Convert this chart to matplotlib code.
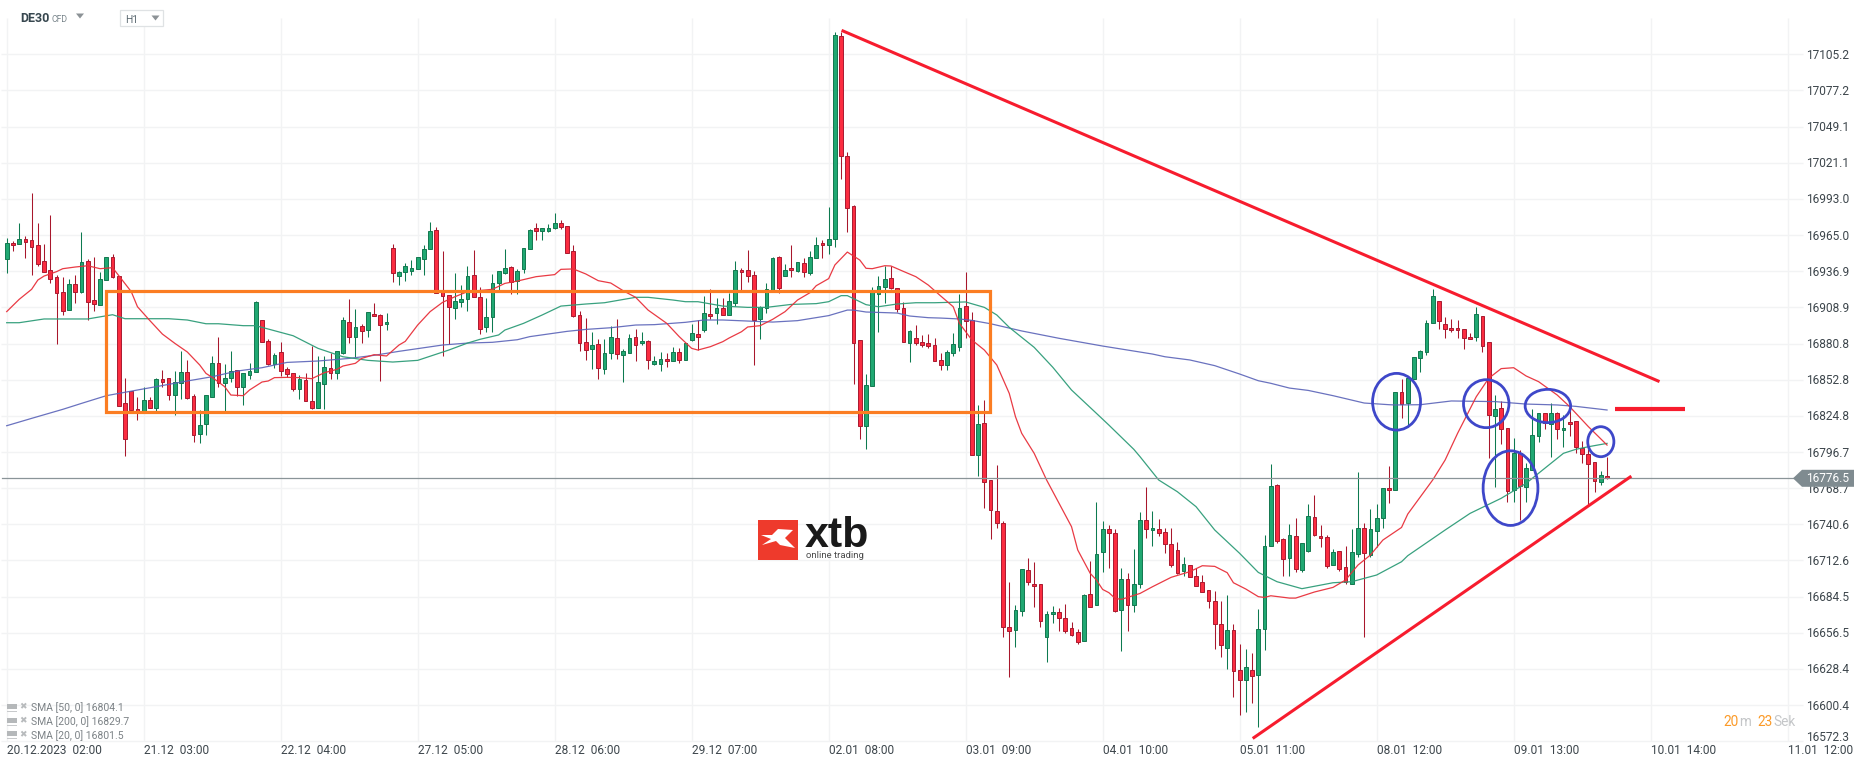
import matplotlib
matplotlib.use('Agg')
import matplotlib.pyplot as plt
from matplotlib.patches import Ellipse, Polygon, Rectangle

W, H = 1866, 767
plt.rcParams['font.family'] = ['Roboto', 'DejaVu Sans']

# hourly candles
opens = [
    16946.7, 16958.6, 16957.8, 16961.7, 16960.9, 16957.0, 16944.6, 16937.6, 16932.2, 16920.6,
    16906.6, 16926.8, 16921.1, 16944.6, 16914.3, 16911.0, 16929.9, 16947.7, 16933.0, 16834.4,
    16843.7, 16829.8, 16828.7, 16836.8, 16831.1, 16853.1, 16853.8, 16840.6, 16850.0, 16858.5,
    16839.9, 16810.4, 16818.2, 16839.1, 16865.5, 16850.0, 16853.8, 16860.0, 16846.9, 16856.7,
    16858.5, 16898.8, 16882.5, 16864.7, 16874.0, 16860.8, 16857.7, 16845.3, 16852.3, 16836.0,
    16831.1, 16849.2, 16861.6, 16857.7, 16873.2, 16897.3, 16885.6, 16894.2, 16891.1, 16903.5,
    16902.7, 16895.7, 16954.7, 16933.5, 16936.1, 16936.8, 16938.4, 16946.2, 16953.9, 16968.7,
    16921.1, 16918.2, 16908.1, 16912.8, 16915.1, 16933.7, 16916.7, 16893.4, 16901.2, 16927.5,
    16935.3, 16939.9, 16929.1, 16938.4, 16953.9, 16970.2, 16967.9, 16967.9, 16970.2, 16974.1,
    16971.8, 16952.4, 16902.7, 16881.8, 16876.3, 16880.2, 16860.8, 16873.2, 16884.9, 16871.7,
    16873.2, 16885.6, 16881.0, 16882.5, 16864.7, 16864.7, 16868.6, 16867.0, 16874.0, 16867.8,
    16883.3, 16888.0, 16891.1, 16903.5, 16904.3, 16908.1, 16902.7, 16912.0, 16937.6, 16937.6,
    16933.7, 16899.6, 16908.1, 16922.4, 16947.7, 16933.0, 16939.2, 16936.8, 16943.0, 16935.3,
    16946.9, 16958.6, 16957.0, 16961.7, 17119.2, 17026.1, 16987.3, 16883.3, 16817.1, 16847.6,
    16919.0, 16924.4, 16931.4, 16923.7, 16908.1, 16881.0, 16884.9, 16881.8, 16881.0, 16879.4,
    16868.3, 16864.4, 16873.2, 16877.9, 16909.7, 16898.8, 16794.6, 16818.9, 16774.7, 16750.7,
    16741.3, 16660.7, 16658.3, 16673.1, 16704.9, 16694.0, 16694.0, 16652.9, 16670.8, 16672.3,
    16667.6, 16659.9, 16656.8, 16649.8, 16686.3, 16677.7, 16718.9, 16736.7, 16733.6, 16673.9,
    16697.9, 16677.7, 16694.0, 16743.7, 16735.9, 16736.7, 16734.4, 16725.1, 16720.4, 16704.1,
    16708.8, 16700.2, 16695.6, 16689.4, 16680.8, 16663.0, 16644.4, 16658.3, 16627.3, 16619.5,
    16627.3, 16623.4, 16659.1, 16723.5, 16770.8, 16728.9, 16714.2, 16731.3, 16704.9, 16719.6,
    16746.0, 16731.3, 16730.5, 16708.8, 16719.6, 16707.2, 16694.0, 16717.3, 16737.5, 16716.5,
    16735.1, 16745.2, 16768.5, 16767.2, 16843.0, 16834.5, 16853.1, 16869.4, 16874.0, 16896.5,
    16913.6, 16895.7, 16892.6, 16892.6, 16891.9, 16885.7, 16885.7, 16902.0, 16881.8, 16824.4,
    16830.6, 16815.1, 16767.0, 16795.7, 16769.3, 16782.5, 16808.9, 16826.7, 16818.2, 16826.7,
    16813.5, 16819.7, 16820.5, 16799.5, 16794.9, 16788.7, 16773.2, 16777.8,
]
highs = [
    16962.4, 16960.4, 16974.1, 16964.3, 16997.4, 16974.1, 16957.8, 16980.5, 16934.0, 16932.2,
    16930.9, 16934.0, 16967.1, 16946.2, 16947.7, 16936.1, 16947.7, 16950.0, 16933.0, 16853.8,
    16843.7, 16839.1, 16846.9, 16839.1, 16853.8, 16860.0, 16853.8, 16859.3, 16874.8, 16867.8,
    16841.4, 16829.0, 16840.6, 16870.9, 16885.6, 16864.7, 16874.8, 16860.0, 16857.7, 16865.5,
    16913.6, 16898.8, 16884.1, 16873.2, 16881.8, 16862.4, 16857.7, 16856.2, 16857.7, 16879.2,
    16870.9, 16870.9, 16873.2, 16874.8, 16901.2, 16915.1, 16907.4, 16895.7, 16905.0, 16912.0,
    16903.5, 16904.3, 16957.8, 16936.8, 16943.0, 16945.4, 16947.7, 16957.0, 16974.9, 16971.0,
    16952.4, 16918.2, 16935.3, 16926.0, 16940.7, 16953.4, 16924.4, 16915.9, 16934.5, 16936.8,
    16953.9, 16940.7, 16938.4, 16954.7, 16969.4, 16974.1, 16970.2, 16973.3, 16981.8, 16976.4,
    16971.8, 16957.0, 16905.8, 16900.4, 16889.5, 16884.1, 16884.1, 16894.2, 16899.6, 16876.3,
    16888.0, 16891.8, 16889.5, 16883.3, 16870.9, 16874.0, 16873.2, 16877.9, 16877.1, 16881.0,
    16895.7, 16898.8, 16917.4, 16922.9, 16915.9, 16915.9, 16919.8, 16944.6, 16939.2, 16953.1,
    16936.8, 16909.9, 16927.5, 16947.7, 16948.5, 16942.3, 16957.0, 16943.8, 16946.9, 16952.4,
    16963.2, 16960.9, 16986.5, 17122.3, 17122.3, 17029.2, 16988.5, 16883.3, 16856.9, 16924.4,
    16933.0, 16940.7, 16940.7, 16923.7, 16912.8, 16891.1, 16895.0, 16887.2, 16888.0, 16884.9,
    16873.2, 16875.8, 16889.0, 16919.0, 16936.1, 16905.0, 16832.9, 16836.8, 16774.7, 16786.3,
    16742.9, 16695.6, 16677.7, 16705.7, 16714.2, 16711.1, 16694.0, 16673.1, 16677.0, 16675.4,
    16678.8, 16664.5, 16659.1, 16686.3, 16711.9, 16757.6, 16742.9, 16739.8, 16736.7, 16706.4,
    16702.6, 16721.2, 16749.9, 16769.3, 16750.7, 16744.5, 16737.5, 16737.5, 16726.6, 16715.0,
    16708.8, 16706.4, 16701.0, 16689.4, 16688.6, 16680.8, 16685.5, 16663.0, 16647.5, 16643.6,
    16640.5, 16674.6, 16732.0, 16787.1, 16771.6, 16729.7, 16740.6, 16745.2, 16725.8, 16756.1,
    16763.1, 16739.8, 16732.0, 16721.2, 16719.6, 16723.5, 16736.7, 16780.9, 16741.3, 16752.2,
    16756.1, 16768.5, 16785.6, 16843.0, 16853.1, 16853.9, 16870.7, 16875.8, 16899.1, 16922.9,
    16913.6, 16901.2, 16899.6, 16898.9, 16891.9, 16888.8, 16908.9, 16902.0, 16881.8, 16840.7,
    16836.0, 16815.1, 16807.3, 16798.0, 16787.9, 16829.8, 16826.7, 16826.7, 16834.5, 16827.5,
    16825.2, 16831.4, 16820.5, 16805.0, 16798.8, 16788.7, 16781.7, 16792.6,
]
lows = [
    16935.8, 16952.9, 16957.8, 16947.4, 16934.0, 16941.2, 16936.6, 16928.1, 16880.7, 16903.2,
    16906.6, 16912.5, 16920.3, 16898.8, 16906.3, 16910.5, 16929.9, 16931.9, 16832.6, 16793.8,
    16828.7, 16821.8, 16828.7, 16830.6, 16828.7, 16846.9, 16837.0, 16825.6, 16838.1, 16838.1,
    16804.7, 16803.4, 16810.1, 16839.1, 16846.9, 16828.7, 16850.7, 16840.4, 16833.4, 16853.1,
    16858.5, 16881.8, 16863.9, 16861.6, 16855.4, 16854.6, 16844.3, 16837.5, 16836.0, 16830.3,
    16831.1, 16829.8, 16853.6, 16853.6, 16872.5, 16881.2, 16870.1, 16881.5, 16885.9, 16901.9,
    16852.0, 16891.1, 16928.8, 16926.5, 16929.6, 16934.3, 16938.4, 16934.3, 16953.9, 16919.8,
    16871.4, 16880.7, 16900.1, 16909.4, 16905.8, 16916.7, 16888.5, 16890.0, 16890.0, 16922.4,
    16934.5, 16919.3, 16919.3, 16935.8, 16953.9, 16961.2, 16961.2, 16967.6, 16969.4, 16969.4,
    16950.8, 16901.2, 16875.3, 16868.1, 16861.3, 16853.6, 16857.5, 16868.6, 16868.6, 16851.2,
    16873.2, 16867.5, 16880.0, 16861.3, 16863.9, 16859.8, 16862.9, 16867.0, 16865.5, 16867.8,
    16882.5, 16875.8, 16890.0, 16899.6, 16895.7, 16902.7, 16902.7, 16909.9, 16922.4, 16928.3,
    16864.4, 16884.3, 16904.3, 16922.4, 16919.8, 16933.0, 16932.7, 16936.1, 16932.7, 16933.7,
    16946.9, 16946.9, 16950.0, 16956.0, 17008.2, 16967.6, 16849.2, 16807.0, 16798.8, 16847.6,
    16890.0, 16912.0, 16922.9, 16905.0, 16881.8, 16866.8, 16879.4, 16877.9, 16877.1, 16867.0,
    16860.3, 16860.3, 16871.4, 16874.8, 16884.9, 16794.6, 16778.3, 16753.0, 16729.2, 16738.0,
    16653.4, 16622.4, 16645.7, 16669.7, 16693.5, 16676.7, 16661.2, 16634.0, 16664.3, 16658.1,
    16656.5, 16653.7, 16647.5, 16649.8, 16676.2, 16677.7, 16703.9, 16706.4, 16672.3, 16642.6,
    16658.1, 16672.8, 16691.4, 16730.2, 16724.0, 16731.8, 16718.1, 16707.7, 16702.0, 16700.2,
    16699.5, 16692.5, 16687.8, 16675.4, 16643.9, 16637.9, 16628.6, 16606.9, 16592.9, 16595.2,
    16602.2, 16583.1, 16642.8, 16723.5, 16725.8, 16700.2, 16700.2, 16703.3, 16703.3, 16718.9,
    16731.3, 16722.7, 16706.4, 16708.8, 16704.1, 16694.0, 16694.0, 16715.5, 16653.4, 16715.0,
    16722.7, 16737.7, 16757.4, 16767.2, 16823.3, 16816.4, 16853.1, 16858.5, 16871.7, 16896.5,
    16892.1, 16885.4, 16889.5, 16885.4, 16876.9, 16884.1, 16882.8, 16874.5, 16791.8, 16769.8,
    16802.7, 16757.7, 16757.7, 16744.0, 16757.7, 16782.5, 16804.2, 16814.3, 16792.6, 16806.5,
    16800.8, 16808.9, 16795.7, 16787.9, 16755.3, 16765.4, 16770.8, 16775.5,
]
closes = [
    16958.6, 16957.0, 16961.7, 16959.9, 16955.5, 16942.8, 16936.6, 16931.2, 16919.8, 16905.8,
    16926.8, 16920.6, 16943.8, 16912.8, 16911.8, 16930.6, 16947.7, 16932.4, 16832.6, 16806.5,
    16829.5, 16827.5, 16836.8, 16831.1, 16853.1, 16851.2, 16840.6, 16850.7, 16858.5, 16838.8,
    16809.6, 16817.4, 16840.6, 16865.5, 16850.0, 16853.8, 16859.3, 16846.9, 16857.7, 16859.3,
    16912.8, 16881.8, 16864.7, 16871.7, 16859.3, 16856.9, 16845.3, 16853.1, 16836.0, 16831.1,
    16850.7, 16862.4, 16857.7, 16874.8, 16898.8, 16885.6, 16893.4, 16890.3, 16905.0, 16901.9,
    16895.0, 16897.3, 16935.3, 16936.1, 16940.7, 16939.2, 16947.7, 16953.9, 16967.9, 16919.8,
    16917.4, 16908.9, 16913.6, 16915.1, 16933.0, 16916.7, 16891.8, 16901.2, 16927.5, 16936.8,
    16939.2, 16928.3, 16936.8, 16954.7, 16968.7, 16967.9, 16970.2, 16970.2, 16974.1, 16971.0,
    16950.8, 16901.9, 16881.0, 16875.6, 16879.4, 16861.6, 16873.2, 16885.6, 16872.5, 16874.8,
    16884.9, 16879.4, 16882.5, 16867.8, 16867.0, 16868.6, 16867.0, 16874.0, 16867.8, 16881.0,
    16888.7, 16885.6, 16904.3, 16901.9, 16908.1, 16902.7, 16913.6, 16937.6, 16936.1, 16933.0,
    16898.8, 16908.9, 16922.9, 16946.9, 16923.7, 16937.6, 16937.6, 16943.8, 16936.1, 16947.7,
    16957.0, 16957.0, 16961.7, 17119.9, 17026.1, 16985.7, 16881.0, 16817.1, 16848.4, 16921.1,
    16925.2, 16930.6, 16923.7, 16907.4, 16881.8, 16890.3, 16881.0, 16880.0, 16878.7, 16867.0,
    16863.9, 16874.0, 16880.2, 16908.1, 16898.1, 16794.6, 16818.2, 16773.2, 16751.4, 16741.3,
    16660.7, 16657.6, 16673.9, 16705.7, 16695.6, 16692.5, 16665.3, 16670.8, 16672.3, 16667.6,
    16657.6, 16654.5, 16649.0, 16685.5, 16676.2, 16717.3, 16736.7, 16733.6, 16673.1, 16697.9,
    16677.7, 16694.0, 16743.7, 16736.7, 16737.5, 16733.6, 16725.1, 16708.8, 16702.6, 16709.5,
    16699.5, 16692.5, 16687.8, 16680.8, 16663.0, 16646.7, 16658.3, 16626.5, 16619.5, 16629.6,
    16622.7, 16659.1, 16723.5, 16770.1, 16727.4, 16713.4, 16732.0, 16705.7, 16725.8, 16746.8,
    16732.0, 16729.7, 16708.0, 16718.9, 16705.7, 16695.6, 16718.9, 16737.5, 16718.1, 16736.7,
    16745.2, 16768.5, 16767.0, 16843.0, 16833.7, 16853.9, 16870.1, 16874.8, 16896.5, 16917.5,
    16898.1, 16891.9, 16891.1, 16891.1, 16884.9, 16884.1, 16903.5, 16878.7, 16825.2, 16829.8,
    16814.3, 16766.2, 16795.7, 16770.1, 16784.0, 16809.6, 16826.7, 16818.9, 16826.7, 16814.3,
    16815.1, 16818.2, 16800.3, 16794.9, 16787.1, 16773.9, 16778.6, 16776.3,
]

# moving averages, read at the bends of each curve
sma20_idx = [
    0, 2, 4, 5, 6, 8, 9, 11, 13, 15, 17, 18, 20, 21, 23, 25, 27, 29, 31, 32, 33, 35, 36, 38, 39, 41,
    42, 43, 45, 47, 49, 51, 53, 54, 56, 57, 59, 61, 63, 64, 66, 68, 70, 72, 74, 78, 80, 82, 85, 88,
    89, 91, 93, 95, 97, 99, 101, 103, 106, 108, 110, 111, 113, 115, 116, 118, 119, 121, 123, 125,
    127, 129, 130, 132, 133, 135, 137, 138, 139, 141, 142, 144, 146, 148, 150, 152, 153, 155, 157,
    159, 161, 162, 163, 165, 167, 169, 171, 172, 174, 175, 176, 177, 178, 179, 182, 184, 187, 190,
    192, 194, 196, 197, 199, 201, 202, 203, 206, 207, 210, 213, 215, 217, 219, 221, 224, 225, 229,
    231, 233, 236, 238, 240, 242, 244, 246, 249, 251, 254, 257,
]
sma20_val = [
    16905.6, 16915.1, 16922.9, 16930.1, 16933.2, 16936.6, 16938.9, 16940.2, 16941.2, 16938.9,
    16939.7, 16933.5, 16921.1, 16909.4, 16898.6, 16888.2, 16881.0, 16874.3, 16864.2, 16857.7,
    16854.6, 16847.4, 16840.9, 16840.4, 16844.8, 16851.0, 16851.8, 16854.4, 16854.6, 16854.4,
    16853.6, 16858.2, 16860.8, 16863.4, 16865.5, 16869.3, 16872.2, 16871.2, 16879.7, 16882.5,
    16895.2, 16905.6, 16912.8, 16917.2, 16921.1, 16922.9, 16927.5, 16929.3, 16932.7, 16934.3,
    16938.4, 16938.7, 16934.8, 16929.6, 16927.8, 16921.8, 16916.7, 16906.8, 16896.5, 16886.2,
    16877.1, 16875.8, 16878.4, 16882.3, 16885.1, 16890.0, 16893.7, 16894.7, 16899.6, 16905.6,
    16914.6, 16920.3, 16925.7, 16931.2, 16941.8, 16951.8, 16945.6, 16939.2, 16938.9, 16941.2,
    16941.0, 16936.8, 16932.7, 16926.2, 16917.7, 16909.4, 16896.5, 16883.6, 16875.8, 16864.2,
    16842.2, 16824.1, 16811.2, 16795.7, 16775.0, 16756.9, 16738.8, 16720.7, 16702.6, 16697.4,
    16690.1, 16687.6, 16683.2, 16682.4, 16687.0, 16692.2, 16699.5, 16703.9, 16708.5, 16708.0,
    16703.1, 16695.3, 16690.4, 16684.5, 16683.9, 16685.2, 16683.4, 16683.4, 16688.1, 16691.7,
    16697.4, 16709.0, 16716.8, 16728.4, 16738.2, 16748.6, 16775.0, 16790.5, 16811.2, 16839.6,
    16853.9, 16861.4, 16862.1, 16855.7, 16851.3, 16840.9, 16831.9, 16816.4, 16802.1,
]
sma50_idx = [
    0, 2, 6, 13, 17, 19, 26, 29, 32, 34, 38, 40, 46, 50, 54, 58, 62, 66, 71, 74, 76, 79, 80, 83, 86,
    89, 93, 96, 101, 103, 107, 109, 111, 115, 119, 122, 126, 130, 132, 134, 135, 138, 140, 143, 146,
    149, 154, 157, 159, 161, 165, 168, 171, 175, 177, 181, 182, 185, 188, 191, 194, 198, 201, 204,
    208, 213, 216, 220, 224, 225, 231, 235, 240, 244, 246, 250, 252, 254, 257,
]
sma50_val = [
    16897.0, 16897.0, 16899.9, 16899.9, 16903.2, 16900.1, 16900.1, 16899.1, 16896.2, 16896.2,
    16894.7, 16894.7, 16886.9, 16877.1, 16870.6, 16867.8, 16866.5, 16867.8, 16875.8, 16881.2,
    16884.1, 16887.5, 16891.3, 16896.5, 16903.0, 16909.9, 16911.5, 16912.5, 16916.7, 16916.7,
    16914.6, 16913.3, 16913.3, 16909.9, 16908.9, 16908.9, 16911.2, 16911.8, 16913.3, 16918.0,
    16918.0, 16911.0, 16909.4, 16911.5, 16912.5, 16912.5, 16913.1, 16908.9, 16903.0, 16893.4,
    16877.9, 16862.4, 16844.8, 16826.7, 16817.6, 16798.8, 16793.1, 16775.0, 16765.9, 16754.3,
    16736.2, 16718.1, 16703.3, 16696.1, 16690.7, 16695.3, 16696.1, 16701.3, 16711.6, 16716.3,
    16736.2, 16749.1, 16760.8, 16772.4, 16780.2, 16795.7, 16798.8, 16800.8, 16803.4,
]
sma200_idx = [
    0, 4, 9, 12, 16, 21, 24, 29, 33, 37, 41, 45, 50, 55, 59, 63, 70, 74, 78, 82, 84, 90, 93, 97, 101,
    104, 109, 112, 115, 119, 123, 127, 132, 135, 136, 138, 143, 145, 148, 150, 153, 155, 158, 163,
    165, 169, 176, 184, 186, 190, 194, 198, 201, 203, 206, 209, 213, 218, 222, 223, 227, 232, 239,
    244, 249, 252, 257,
]
sma200_val = [
    16817.1, 16822.8, 16829.8, 16834.4, 16840.4, 16844.8, 16847.4, 16851.8, 16855.1, 16859.5,
    16862.1, 16866.2, 16867.3, 16869.3, 16871.7, 16874.8, 16879.7, 16881.2, 16881.8, 16883.8,
    16886.2, 16890.3, 16891.8, 16893.1, 16895.2, 16895.5, 16897.3, 16899.1, 16899.1, 16898.3,
    16897.5, 16898.6, 16902.5, 16906.8, 16906.8, 16905.3, 16904.5, 16902.2, 16900.9, 16900.6,
    16899.9, 16898.8, 16896.2, 16890.6, 16888.7, 16884.9, 16878.9, 16872.7, 16870.6, 16868.1,
    16863.7, 16857.2, 16852.0, 16850.0, 16846.3, 16844.5, 16840.4, 16834.7, 16833.4, 16833.2,
    16833.4, 16836.3, 16835.8, 16833.9, 16833.2, 16832.1, 16829.3,
]

price_ticks = [
    17105.2, 17077.2, 17049.1, 17021.1, 16993.0, 16965.0, 16936.9, 16908.9, 16880.8, 16852.8,
    16824.8, 16796.7, 16768.7, 16740.6, 16712.6, 16684.5, 16656.5, 16628.4, 16600.4, 16572.3,
]
time_labels = [
    '20.12.2023  02:00', '21.12  03:00', '22.12  04:00', '27.12  05:00', '28.12  06:00',
    '29.12  07:00', '02.01  08:00', '03.01  09:00', '04.01  10:00', '05.01  11:00',
    '08.01  12:00', '09.01  13:00', '10.01  14:00', '11.01  12:00',
]
bars_per_label = 22
last_price = 16776.5

# hand drawn analysis on the chart: (bar, price)
falling_line = ([134.3, 265.2], [17123.3, 16851.8])
rising_line = ([200.3, 260.7], [16575.2, 16777.3])
level_line = ([258.3, 269.5], [16829.8, 16829.8])
box_bars = (16.0, 157.9)
box_prices = (16827.5, 16921.4)
circle_bars = [223.2, 237.6, 241.5, 247.5, 256.0]
circle_prices = [16835.7, 16834.2, 16768.7, 16832.4, 16804.7]
circle_widths = [7.7, 7.3, 8.8, 7.3, 4.2]
circle_heights = [44.0, 37.2, 57.9, 25.8, 23.3]

legend_rows = ['SMA [50, 0] 16804.1', 'SMA [200, 0] 16829.7', 'SMA [20, 0] 16801.5']

# one bar is 6.227 px, one price point 1.2892 px
px_per_bar = 6.227
px_per_point = 1.2892
x0 = -6.7 / px_per_bar
y_top = 17105.2 + 54.3 / px_per_point


def fx(px):
    return px / W


def fy(py):
    return 1 - py / H


fig = plt.figure(figsize=(W / 100, H / 100), dpi=100, facecolor='white')
ax = fig.add_axes([0, 0, 1, 1])
ax.set_xlim(x0, x0 + W / px_per_bar)
ax.set_ylim(y_top - H / px_per_point, y_top)
ax.axis('off')

grid_col = '#f2f3f4'
x_ticks = [i * bars_per_label for i in range(len(time_labels))]
ax.hlines(price_ticks, x0 + 1 / px_per_bar, x0 + 1803 / px_per_bar, color=grid_col, lw=1.0, zorder=1)
ax.vlines(x_ticks, price_ticks[-1], y_top - 18 / px_per_point, color=grid_col, lw=1.0, zorder=1)

# candles
for i in range(len(opens)):
    up = closes[i] >= opens[i]
    wick = '#0d7a50' if up else '#a8172c'
    fill = '#20a872' if up else '#fb2c40'
    edge = '#13784f' if up else '#a91a30'
    ax.vlines(i, lows[i], highs[i], color=wick, lw=0.75, zorder=2)
    ax.bar(i, abs(closes[i] - opens[i]), bottom=min(opens[i], closes[i]), width=0.6,
           facecolor=fill, edgecolor=edge, lw=0.7, zorder=3)

ax.plot(sma200_idx, sma200_val, color='#5a63b8', lw=0.9, alpha=0.9, zorder=4)
ax.plot(sma50_idx, sma50_val, color='#2e9c78', lw=0.9, alpha=0.95, zorder=4)
ax.plot(sma20_idx, sma20_val, color='#e8303a', lw=0.9, alpha=0.95, zorder=4)

ax.axhline(last_price, xmin=2 / W, xmax=1795 / W, color='#8a9498', lw=0.9, zorder=5)

# drawings
ax.add_patch(Rectangle((box_bars[0], box_prices[0]), box_bars[1] - box_bars[0],
                       box_prices[1] - box_prices[0], fill=False, ec='#fb7d22', lw=2.3, zorder=6))
ax.plot(*falling_line, color='#f71c2e', lw=2.2, zorder=6)
ax.plot(*rising_line, color='#f71c2e', lw=2.2, zorder=6)
ax.plot(*level_line, color='#f71c2e', lw=3.0, solid_capstyle='butt', zorder=6)
for cx, cy, w, h in zip(circle_bars, circle_prices, circle_widths, circle_heights):
    ax.add_patch(Ellipse((cx, cy), w, h, fill=False, ec='#3e47c9', lw=2.0, zorder=7))

# axis labels
for p in price_ticks:
    ly = 54.3 + (price_ticks[0] - p) * px_per_point + 1
    if p == price_ticks[-1]:
        ly -= 4.5
    fig.text(fx(1806.5), fy(ly), f'{p:.1f}', fontsize=8.6, color='#3d464c', ha='left', va='center')
for t, lab in zip(x_ticks, time_labels):
    fig.text(fx(6.7 + t * px_per_bar), fy(751), lab, fontsize=8.6, color='#3d464c',
             ha='left', va='center')

# last price tag
tag_y = 478.3
tag = [(1793, tag_y), (1802, tag_y - 8.5), (1854, tag_y - 8.5), (1854, tag_y + 8.5), (1802, tag_y + 8.5)]
fig.add_artist(Polygon([(fx(a), fy(b)) for a, b in tag], closed=True, transform=fig.transFigure,
                       fc='#7f8b90', ec='none', zorder=8))
fig.text(fx(1806.5), fy(tag_y + 0.5), f'{last_price:.1f}', fontsize=8.6, color='white', ha='left',
         va='center', zorder=9)

# header
fig.text(fx(20), fy(19), 'DE30', fontsize=9.0, fontweight='bold', color='#37474f', ha='left', va='center')
fig.text(fx(52), fy(19), 'CFD', fontsize=6.2, color='#78848a', ha='left', va='center')
fig.add_artist(Rectangle((fx(120), fy(25.5)), 43 / W, 15 / H, transform=fig.transFigure,
                         fc='white', ec='#dfe2e4', lw=0.9))
fig.text(fx(125), fy(20), 'H1', fontsize=7.4, color='#5c6a72', ha='left', va='center')
for tx, ty in [(80, 15.5), (155.5, 17.5)]:
    fig.add_artist(Polygon([(fx(tx - 4), fy(ty - 2)), (fx(tx + 4), fy(ty - 2)), (fx(tx), fy(ty + 3))],
                           transform=fig.transFigure, fc='#8c9296', ec='none'))

# indicator legend
for row, y in zip(legend_rows, [708, 721.7, 735.3]):
    fig.add_artist(Rectangle((fx(6.5), fy(y + 1)), 10 / W, 5 / H, transform=fig.transFigure,
                             fc='#b5b8ba', ec='none'))
    fig.add_artist(Rectangle((fx(6.5), fy(y + 4)), 10 / W, 1.2 / H, transform=fig.transFigure,
                             fc='#c8cacc', ec='none'))
    fig.text(fx(23), fy(y - 1), '\u2716', fontsize=6.5, color='#b8bbbd', ha='center', va='center',
             family='DejaVu Sans')
    fig.text(fx(31), fy(y), row, fontsize=7.5, color='#7c8286', ha='left', va='center')

# countdown
fig.text(fx(1723), fy(722), '20', fontsize=9.8, color='#fb9a28', ha='left', va='center')
fig.text(fx(1739), fy(722), 'm', fontsize=9.8, color='#c4c6c8', ha='left', va='center')
fig.text(fx(1757), fy(722), '23', fontsize=9.8, color='#fb9a28', ha='left', va='center')
fig.text(fx(1773.5), fy(722), 'Sek', fontsize=9.8, color='#c4c6c8', ha='left', va='center')

# logo
fig.add_artist(Rectangle((fx(758), fy(560)), 40 / W, 40 / H, transform=fig.transFigure,
                         fc='#ee3a2c', ec='none'))
mark = [(761, 535), (772, 535), (778, 529), (793, 530), (785, 538), (795, 548), (780, 545),
        (776, 541), (762, 545), (771, 539)]
fig.add_artist(Polygon([(fx(a), fy(b)) for a, b in mark], transform=fig.transFigure, fc='white', ec='none'))
fig.text(fx(805), fy(546.7), 'xtb', fontsize=31, fontweight='bold', color='#1a1a1a', ha='left', va='baseline',
         family='Liberation Sans')
fig.text(fx(806), fy(556), 'online trading', fontsize=6.8, color='#4a4a4a', ha='left', va='center')

fig.savefig('out.png', dpi=100, facecolor='white')
